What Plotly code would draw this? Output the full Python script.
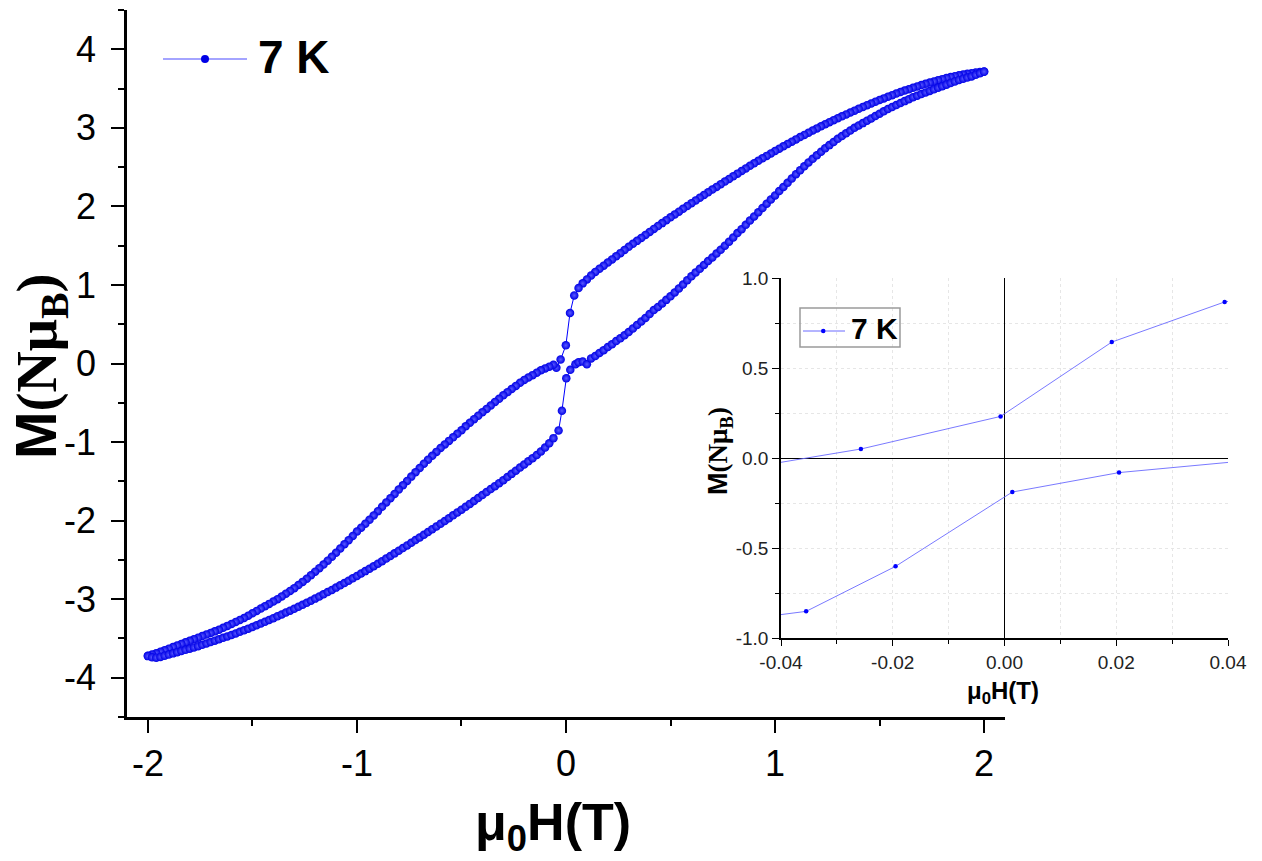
import plotly.graph_objects as go

# Field grid (T) used for the outer parts of both sweeps
FIELD_POS = [
    0.06, 0.08, 0.10, 0.12, 0.14, 0.16, 0.18, 0.20, 0.22, 0.24,
    0.26, 0.28, 0.30, 0.32, 0.34, 0.36, 0.38, 0.40, 0.42, 0.44,
    0.46, 0.48, 0.50, 0.52, 0.54, 0.56, 0.58, 0.60, 0.62, 0.64,
    0.66, 0.68, 0.70, 0.72, 0.74, 0.76, 0.78, 0.80, 0.82, 0.84,
    0.86, 0.88, 0.90, 0.92, 0.94, 0.96, 0.98, 1.00, 1.02, 1.04,
    1.06, 1.08, 1.10, 1.12, 1.14, 1.16, 1.18, 1.20, 1.22, 1.24,
    1.26, 1.28, 1.30, 1.32, 1.34, 1.36, 1.38, 1.40, 1.42, 1.44,
    1.46, 1.48, 1.50, 1.52, 1.54, 1.56, 1.58, 1.60, 1.62, 1.64,
    1.66, 1.68, 1.70, 1.72, 1.74, 1.76, 1.78, 1.80, 1.82, 1.84,
    1.86, 1.88, 1.90, 1.92, 1.94, 1.96, 1.98, 2.00,
]
FIELD_NEG = [
    -0.06, -0.08, -0.10, -0.12, -0.14, -0.16, -0.18, -0.20, -0.22, -0.24,
    -0.26, -0.28, -0.30, -0.32, -0.34, -0.36, -0.38, -0.40, -0.42, -0.44,
    -0.46, -0.48, -0.50, -0.52, -0.54, -0.56, -0.58, -0.60, -0.62, -0.64,
    -0.66, -0.68, -0.70, -0.72, -0.74, -0.76, -0.78, -0.80, -0.82, -0.84,
    -0.86, -0.88, -0.90, -0.92, -0.94, -0.96, -0.98, -1.00, -1.02, -1.04,
    -1.06, -1.08, -1.10, -1.12, -1.14, -1.16, -1.18, -1.20, -1.22, -1.24,
    -1.26, -1.28, -1.30, -1.32, -1.34, -1.36, -1.38, -1.40, -1.42, -1.44,
    -1.46, -1.48, -1.50, -1.52, -1.54, -1.56, -1.58, -1.60, -1.62, -1.64,
    -1.66, -1.68, -1.70, -1.72, -1.74, -1.76, -1.78, -1.80, -1.82, -1.84,
    -1.86, -1.88, -1.90, -1.92, -1.94, -1.96, -1.98, -2.00,
]

# Decreasing-field sweep (+2 T -> -2 T), magnetisation in N muB
M_DOWN_POS = [  # at FIELD_POS
    0.96, 1.02, 1.07, 1.12, 1.165, 1.205, 1.245, 1.285, 1.325, 1.365,
    1.405, 1.445, 1.485, 1.523, 1.561, 1.599, 1.637, 1.675, 1.713, 1.75,
    1.787, 1.824, 1.861, 1.897, 1.933, 1.969, 2.005, 2.04, 2.075, 2.11,
    2.145, 2.18, 2.214, 2.248, 2.282, 2.316, 2.35, 2.384, 2.417, 2.45,
    2.483, 2.516, 2.548, 2.58, 2.612, 2.643, 2.674, 2.705, 2.735, 2.765,
    2.795, 2.824, 2.853, 2.882, 2.91, 2.938, 2.966, 2.993, 3.02, 3.046,
    3.072, 3.097, 3.122, 3.146, 3.17, 3.194, 3.217, 3.242, 3.265, 3.288,
    3.31, 3.332, 3.354, 3.375, 3.396, 3.416, 3.436, 3.455, 3.474, 3.492,
    3.51, 3.527, 3.544, 3.56, 3.576, 3.591, 3.606, 3.62, 3.633, 3.646,
    3.658, 3.669, 3.679, 3.688, 3.696, 3.703, 3.71, 3.716,
]
FIELD_DOWN_MID = [0.0394, 0.0192, -0.0007, -0.0257, -0.046]
M_DOWN_MID = [0.867, 0.644, 0.231, 0.05, -0.055]
M_DOWN_NEG = [  # at FIELD_NEG
    -0.015, -0.04, -0.063, -0.086, -0.118, -0.148, -0.178, -0.21, -0.245, -0.285,
    -0.325, -0.365, -0.405, -0.45, -0.49, -0.535, -0.578, -0.62, -0.665, -0.71,
    -0.755, -0.80, -0.85, -0.895, -0.94, -0.985, -1.03, -1.075, -1.125, -1.175,
    -1.225, -1.275, -1.33, -1.385, -1.44, -1.495, -1.55, -1.605, -1.66, -1.715,
    -1.77, -1.825, -1.88, -1.935, -1.99, -2.04, -2.09, -2.14, -2.195, -2.25,
    -2.30, -2.355, -2.41, -2.46, -2.51, -2.56, -2.605, -2.65, -2.695, -2.74,
    -2.78, -2.82, -2.86, -2.895, -2.93, -2.965, -3.00, -3.03, -3.06, -3.09,
    -3.12, -3.15, -3.18, -3.21, -3.24, -3.265, -3.29, -3.315, -3.34, -3.365,
    -3.39, -3.41, -3.43, -3.45, -3.47, -3.49, -3.51, -3.53, -3.55, -3.57,
    -3.59, -3.61, -3.63, -3.65, -3.67, -3.69, -3.705, -3.72,
]

# Increasing-field sweep (-2 T -> +2 T)
M_UP_NEG = [  # at FIELD_NEG
    -0.95, -1.015, -1.07, -1.12, -1.165, -1.205, -1.245, -1.285, -1.325, -1.365,
    -1.405, -1.445, -1.485, -1.523, -1.561, -1.599, -1.637, -1.675, -1.713, -1.75,
    -1.787, -1.824, -1.861, -1.897, -1.933, -1.969, -2.005, -2.04, -2.075, -2.11,
    -2.145, -2.18, -2.214, -2.248, -2.282, -2.316, -2.35, -2.384, -2.417, -2.45,
    -2.483, -2.516, -2.548, -2.58, -2.612, -2.643, -2.674, -2.705, -2.735, -2.765,
    -2.795, -2.824, -2.853, -2.882, -2.91, -2.938, -2.966, -2.993, -3.02, -3.046,
    -3.072, -3.097, -3.122, -3.146, -3.17, -3.194, -3.217, -3.242, -3.265, -3.288,
    -3.31, -3.332, -3.354, -3.375, -3.396, -3.416, -3.436, -3.455, -3.474, -3.492,
    -3.51, -3.528, -3.546, -3.564, -3.581, -3.598, -3.614, -3.63, -3.645, -3.66,
    -3.675, -3.69, -3.705, -3.72, -3.735, -3.745, -3.74, -3.725,
]
FIELD_UP_MID = [-0.0355, -0.0195, 0.0014, 0.0205, 0.045]
M_UP_MID = [-0.852, -0.602, -0.189, -0.081, -0.01]
M_UP_POS = [  # at FIELD_POS
    0.015, 0.025, -0.01, 0.065, 0.095, 0.135, 0.17, 0.21, 0.245, 0.285,
    0.32, 0.36, 0.40, 0.445, 0.49, 0.535, 0.58, 0.63, 0.68, 0.72,
    0.765, 0.81, 0.855, 0.905, 0.955, 1.005, 1.06, 1.11, 1.16, 1.205,
    1.255, 1.305, 1.35, 1.40, 1.447, 1.50, 1.55, 1.605, 1.66, 1.71,
    1.765, 1.82, 1.872, 1.925, 1.98, 2.035, 2.088, 2.14, 2.195, 2.248,
    2.30, 2.355, 2.41, 2.46, 2.51, 2.56, 2.605, 2.65, 2.695, 2.74,
    2.78, 2.82, 2.86, 2.895, 2.93, 2.965, 3.00, 3.03, 3.06, 3.09,
    3.12, 3.15, 3.18, 3.21, 3.24, 3.265, 3.29, 3.315, 3.34, 3.365,
    3.39, 3.41, 3.43, 3.45, 3.47, 3.49, 3.51, 3.53, 3.55, 3.57,
    3.59, 3.61, 3.625, 3.64, 3.655, 3.675, 3.695, 3.715,
]

SERIES_NAME = "7 K"
X_TICKS = [-2, -1, 0, 1, 2]
Y_TICKS = [-4, -3, -2, -1, 0, 1, 2, 3, 4]
INSET_X_TICKS = [-0.04, -0.02, 0.00, 0.02, 0.04]
INSET_Y_TICKS = [-1.0, -0.5, 0.0, 0.5, 1.0]

# Full loop in measurement order: down sweep then up sweep
H = (FIELD_POS[::-1] + FIELD_DOWN_MID + FIELD_NEG
     + FIELD_NEG[::-1] + FIELD_UP_MID + FIELD_POS)
M = (M_DOWN_POS[::-1] + M_DOWN_MID + M_DOWN_NEG
     + M_UP_NEG[::-1] + M_UP_MID + M_UP_POS)

W, HGT = 1262, 861


def px(x):
    return x / W


def py(y):
    return 1 - y / HGT


SANS = "Liberation Sans, Arial, sans-serif"
SERIF = "Liberation Serif"
BLUE = "#0000ff"

fig = go.Figure()

fig.add_trace(go.Scatter(
    x=H, y=M, mode="lines+markers", name=SERIES_NAME, showlegend=False,
    line=dict(color=BLUE, width=1),
    marker=dict(size=8.5, color="#0000e6",
                gradient=dict(type="radial", color="#5a5aff"),
                line=dict(width=0)),
    xaxis="x", yaxis="y",
))

fig.add_trace(go.Scatter(
    x=H, y=M, mode="lines+markers", name=SERIES_NAME, showlegend=False,
    line=dict(color="#6a6aff", width=0.9),
    marker=dict(size=4.5, color=BLUE),
    xaxis="x2", yaxis="y2",
))

main_axis = dict(
    showline=True, linecolor="black", linewidth=2.5,
    ticks="outside", ticklen=13, tickwidth=2.2, tickcolor="black",
    showgrid=False, zeroline=False, automargin=False,
    tickfont=dict(family=SANS, size=36, color="black"),
)

GRID = "#e6e6e6"

fig.update_layout(
    template="none",
    width=W, height=HGT, autosize=False,
    margin=dict(l=0, r=0, t=0, b=0, pad=0, autoexpand=False),
    paper_bgcolor="white", plot_bgcolor="white",
    showlegend=False,
    xaxis=dict(
        main_axis, domain=[px(127), px(1005)], range=[-2.1, 2.1],
        tickvals=X_TICKS, ticktext=[str(v) for v in X_TICKS],
        minor=dict(dtick=0.5, ticklen=6, tickwidth=2, tickcolor="black",
                   ticks="outside", showgrid=False),
        anchor="y", ticklabelstandoff=0,
    ),
    yaxis=dict(
        main_axis, domain=[py(717), py(10)], range=[-4.5, 4.5],
        tickvals=Y_TICKS, ticktext=[str(v) for v in Y_TICKS],
        minor=dict(dtick=0.5, ticklen=6, tickwidth=2, tickcolor="black",
                   ticks="outside", showgrid=False),
        anchor="x", ticklabelstandoff=8,
    ),
    xaxis2=dict(
        domain=[px(781), px(1228)], range=[-0.04, 0.04], anchor="y2",
        showline=True, linecolor="black", linewidth=1.5, automargin=False,
        ticks="outside", ticklen=6, tickwidth=1.2, tickcolor="black",
        tickvals=INSET_X_TICKS, ticktext=[f"{v:.2f}" for v in INSET_X_TICKS],
        tickfont=dict(family=SANS, size=19, color="#222"),
        showgrid=True, gridcolor=GRID, griddash="dot", gridwidth=1,
        zeroline=True, zerolinecolor="black", zerolinewidth=1.4,
        minor=dict(dtick=0.01, ticklen=4, tickwidth=1, tickcolor="black",
                   ticks="outside", showgrid=True, gridcolor=GRID,
                   griddash="dot", gridwidth=1),
    ),
    yaxis2=dict(
        domain=[py(638), py(278)], range=[-1.0, 1.0], anchor="x2",
        showline=True, linecolor="black", linewidth=1.5, automargin=False,
        ticks="outside", ticklen=7, tickwidth=1.2, tickcolor="black",
        tickvals=INSET_Y_TICKS, ticktext=[f"{v:.1f}" for v in INSET_Y_TICKS],
        tickfont=dict(family=SANS, size=19, color="#222"),
        showgrid=True, gridcolor=GRID, griddash="dot", gridwidth=1,
        zeroline=True, zerolinecolor="black", zerolinewidth=1.4,
        minor=dict(dtick=0.25, ticklen=4, tickwidth=1, tickcolor="black",
                   ticks="outside", showgrid=True, gridcolor=GRID,
                   griddash="dot", gridwidth=1),
    ),
)

y_title = ('<b>M<span style="font-family:%s">(Nμ<sub>B</sub>)</span></b>'
           % SERIF)
x_title = "<b>μ<sub>0</sub>H(T)</b>"

annotations = [
    dict(text=x_title, x=px(553), y=py(826), xref="paper", yref="paper",
         xanchor="center", yanchor="middle", showarrow=False,
         font=dict(family=SANS, size=52, color="black")),
    dict(text=y_title, x=px(40), y=py(366), xref="paper", yref="paper",
         xanchor="center", yanchor="middle", showarrow=False, textangle=-90,
         font=dict(family=SANS, size=57, color="black")),
    dict(text=x_title, x=px(1003), y=py(692), xref="paper", yref="paper",
         xanchor="center", yanchor="middle", showarrow=False,
         font=dict(family=SANS, size=24, color="black")),
    dict(text=y_title, x=px(720), y=py(451), xref="paper", yref="paper",
         xanchor="center", yanchor="middle", showarrow=False, textangle=-90,
         font=dict(family=SANS, size=27, color="black")),
    # legend labels
    dict(text="<b>%s</b>" % SERIES_NAME, x=px(256), y=py(57), xref="paper",
         yref="paper", xanchor="left", yanchor="middle", showarrow=False,
         font=dict(family=SANS, size=46, color="black")),
    dict(text="<b>%s</b>" % SERIES_NAME, x=px(849), y=py(328), xref="paper",
         yref="paper", xanchor="left", yanchor="middle", showarrow=False,
         font=dict(family=SANS, size=30, color="black")),
]

shapes = [
    # main legend glyph
    dict(type="line", xref="paper", yref="paper", x0=px(163), x1=px(247),
         y0=py(59), y1=py(59), line=dict(color="#4a4aff", width=1.2)),
    dict(type="circle", xref="paper", yref="paper", x0=px(201), x1=px(209),
         y0=py(55), y1=py(63), fillcolor="#0000e6", line=dict(width=0)),
    # inset legend box and glyph
    dict(type="rect", xref="paper", yref="paper", x0=px(800), x1=px(900),
         y0=py(347), y1=py(308), line=dict(color="#9a9a9a", width=1.5),
         fillcolor="rgba(255,255,255,0)"),
    dict(type="line", xref="paper", yref="paper", x0=px(803), x1=px(845),
         y0=py(331), y1=py(331), line=dict(color="#6a6aff", width=1)),
    dict(type="circle", xref="paper", yref="paper", x0=px(821), x1=px(825.5),
         y0=py(328.8), y1=py(333.3), fillcolor=BLUE, line=dict(width=0)),
]

fig.update_layout(annotations=annotations, shapes=shapes)

fig.write_html("out.html")
